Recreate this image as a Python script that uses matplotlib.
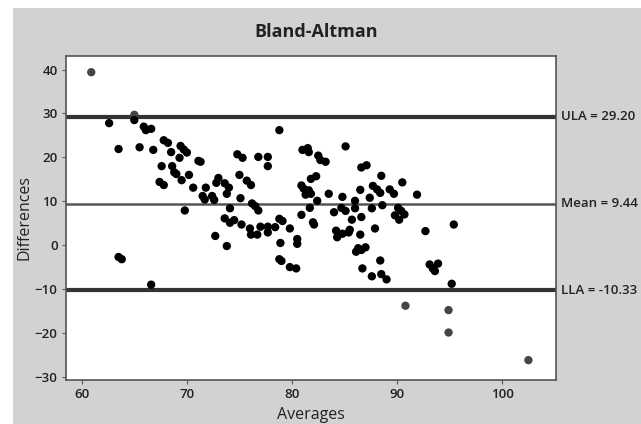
import matplotlib
matplotlib.use("Agg")
import matplotlib.pyplot as plt
from matplotlib.patches import Rectangle

# averages (x) and differences (y)
avg = [60.9, 62.6, 63.5, 63.5, 63.8, 65.0, 65.0, 65.5, 65.9, 66.1, 66.6, 66.8, 66.6,
       67.4, 67.8, 67.6, 67.8, 68.2, 68.5, 68.6, 68.8, 69.0, 69.3, 69.4, 69.7, 70.0,
       69.5, 69.8, 70.2, 70.6, 71.1, 71.3, 71.5, 71.7, 71.8, 72.4, 72.6, 72.7, 72.8,
       73.0, 73.6, 74.0, 73.8, 73.6, 73.8, 74.1, 74.1, 74.5, 74.8, 75.3, 75.0, 75.1,
       75.2, 75.7, 76.1, 76.0, 76.1, 76.2, 76.5, 76.8, 76.8, 76.7, 77.0, 77.7, 77.7,
       77.7, 77.7, 78.4, 78.8, 78.8, 79.1, 78.9, 78.8, 79.0, 79.8, 79.8, 80.4, 80.5,
       80.5, 80.9, 80.9, 81.1, 81.0, 81.5, 81.6, 81.3, 81.6, 81.8, 81.7, 81.8, 82.0,
       82.1, 82.3, 82.4, 82.5, 82.7, 83.2, 83.5, 84.0, 84.2, 84.3, 84.8, 84.7, 85.1,
       85.1, 84.8, 85.4, 85.5, 85.7, 86.0, 86.0, 86.1, 86.3, 86.5, 86.5, 86.6, 86.6,
       87.1, 86.7, 86.6, 87.0, 87.4, 87.6, 87.6, 87.7, 88.1, 88.4, 87.9, 88.4, 88.5,
       88.6, 88.5, 89.0, 89.3, 89.7, 89.8, 90.1, 90.4, 90.2, 90.5, 90.7, 90.8, 91.9,
       92.7, 93.1, 93.4, 93.6, 93.9, 94.9, 94.9, 95.2, 95.4, 102.5]
diff = [39.4, 27.8, 21.9, -2.7, -3.2, 29.7, 28.5, 22.3, 27.0, 26.2, 26.5, 21.7, -9.0,
        14.4, 13.7, 18.0, 23.9, 23.3, 21.2, 18.0, 16.6, 16.2, 19.9, 22.6, 21.8, 21.1,
        14.8, 7.9, 16.0, 13.1, 19.2, 19.0, 11.2, 10.4, 13.1, 11.2, 10.3, 2.1, 14.2,
        15.3, 14.1, 13.1, 11.7, 6.1, -0.2, 8.4, 5.1, 5.7, 20.7, 19.9, 16.0, 10.7,
        4.7, 14.7, 13.7, 3.8, 2.4, 9.5, 8.9, 7.9, 20.1, 2.4, 4.2, 4.2, 2.9,
        20.1, 18.0, 4.1, 26.2, 6.0, 5.5, 0.5, -3.2, -3.6, 3.8, -5.0, -5.3, 1.4,
        0.3, 6.9, 13.6, 12.9, 21.7, 22.1, 21.2, 11.5, 12.5, 11.7, 8.5, 15.1, 5.2,
        4.7, 15.7, 10.1, 20.4, 19.4, 19.0, 11.7, 7.5, 3.3, 1.8, 11.0, 8.5, 7.8,
        22.5, 2.6, 2.9, 3.5, 5.8, 10.1, 8.4, -1.5, -0.7, 12.6, 2.4, 6.4, 17.7,
        18.2, -5.3, -1.1, -0.5, 10.8, 8.4, -7.1, 13.5, 12.7, 11.9, 3.8, -3.5, 15.8,
        9.1, -6.6, -7.8, 12.7, 11.7, 6.8, 8.5, 7.8, 5.8, 14.3, 7.0, -13.8, 11.5,
        3.2, -4.4, -5.3, -5.9, -4.2, -14.8, -19.9, -8.8, 4.7, -26.2]

ula = 29.20
mean_diff = 9.44
lla = -10.33
xticks = [60, 70, 80, 90, 100]
yticks = [-30, -20, -10, 0, 10, 20, 30, 40]

plt.rcParams['font.family'] = ['Open Sans', 'DejaVu Sans']

fig = plt.figure(figsize=(6.41, 4.24), dpi=100, facecolor='white')
# grey panel with a thin white strip on left and top
fig.patches.append(Rectangle((13 / 641, 0), 1, 1 - 8 / 424, transform=fig.transFigure,
                             facecolor='#d2d2d2', edgecolor='none', zorder=-5))

ax = fig.add_axes([0.103, 0.104, 0.764, 0.764])
ax.set_zorder(2)
ax.set_facecolor('white')

# points outside the limits are drawn a bit lighter
cols = ['#454545' if (d > ula or d < lla) else 'black' for d in diff]
ax.scatter(avg, diff, s=36, c=cols, zorder=3, linewidths=0)

ax.axhline(ula, color='#333333', lw=3, zorder=2)
ax.axhline(mean_diff, color='#555555', lw=1.8, zorder=2)
ax.axhline(lla, color='#333333', lw=3, zorder=2)

ax.set_xlim(58.5, 105.1)
ax.set_ylim(-30.7, 43.1)
ax.set_xticks(xticks)
ax.set_yticks(yticks)

for s in ax.spines.values():
    s.set_color('#555555')
    s.set_linewidth(1.2)
ax.tick_params(direction='out', length=3, color='#555555', labelsize=9.5, pad=3)
for lab in ax.get_xticklabels() + ax.get_yticklabels():
    lab.set_fontweight('semibold')
    lab.set_color('#222222')

ax.set_xlabel('Averages', fontsize=11.5, color='#222222', labelpad=4)
ax.set_ylabel('Differences', fontsize=11.5, color='#222222', labelpad=2)
fig.text(0.493, 0.925, 'Bland-Altman', ha='center', va='center', fontsize=13,
         fontweight='bold', color='#222222')

for val, txt in [(ula, 'ULA = %.2f' % ula), (mean_diff, 'Mean = %.2f' % mean_diff),
                 (lla, 'LLA = %.2f' % lla)]:
    ax.annotate(txt, xy=(1, val), xycoords=('axes fraction', 'data'),
                xytext=(4, 0), textcoords='offset points', ha='left', va='center',
                fontsize=9.5, fontweight='semibold', color='#222222')

fig.savefig('out.png', dpi=100, facecolor=fig.get_facecolor())
